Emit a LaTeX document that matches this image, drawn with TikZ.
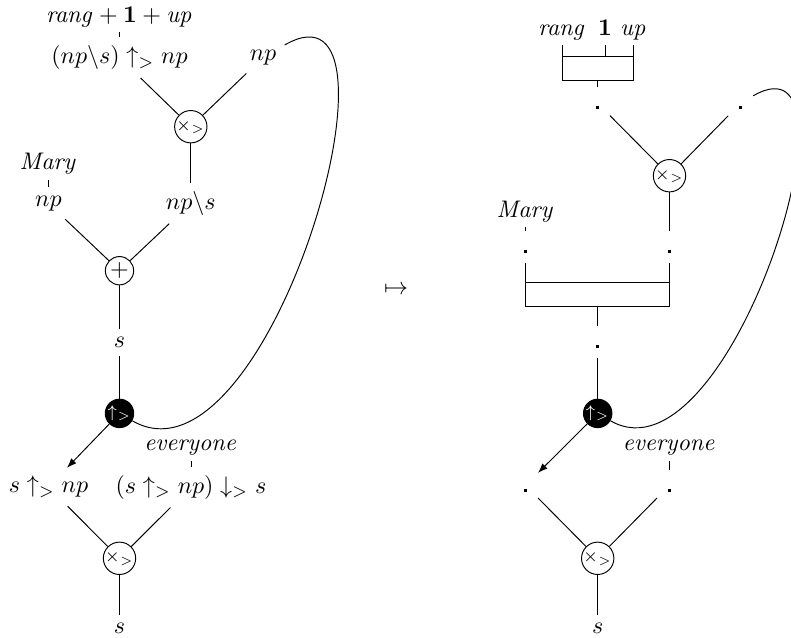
\documentclass[tikz,border=0pt]{standalone}
\usetikzlibrary{arrows.meta}
\begin{document}
\begin{tikzpicture}[x=0.4167pt,y=0.4167pt,
  lbl/.style={inner sep=3.333pt},
  toplbl/.style={inner sep=2pt},
  opc/.style={circle,draw,minimum size=11.8pt,inner sep=0pt,font=\scriptsize},
  blk/.style={opc,fill=black,text=white},
  dotn/.style={inner xsep=4.4pt,inner ysep=3pt,text height=5.95pt,text depth=0.8pt,anchor=base},
  arr/.style={-{Latex[length=4pt,width=3pt]}}]
\useasboundingbox (0,0) rectangle (791,-637);
\newcommand{\dotmark}{\rule{1.25pt}{1.25pt}}
% ---------- left diagram ----------
\node[toplbl] (Lrang) at (119.5,-17) {$\mathit{rang}+\mathbf{1}+\mathit{up}$};
\node[lbl] (Lt1) at (119.5,-57.5) {$(np\backslash s)\uparrow_{>} np$};
\node[lbl] (Lt2) at (263,-57.5) {$np$};
\node[opc] (Lc1) at (190.8,-126.7) {$\times_{>}$};
\node[toplbl] (Lmary) at (48.4,-163.7) {$\mathit{Mary}$};
\node[lbl] (Lnp) at (48.4,-203.3) {$np$};
\node[lbl] (Lnps) at (190.8,-203.3) {$np\backslash s$};
\node[opc,font=\normalsize] (Lplus) at (119.5,-270.7) {$+$};
\node[lbl] (Ls) at (119.5,-342.7) {$s$};
\node[blk] (Lblack) at (119.5,-413.4) {$\uparrow_{>}$};
\node[toplbl] (Leveryone) at (191,-448) {$\mathit{everyone}$};
\node[lbl] (Lb1) at (48.5,-487) {$s\uparrow_{>} np$};
\node[lbl] (Lb2) at (191,-487) {$(s\uparrow_{>} np)\downarrow_{>} s$};
\node[opc] (Lc2) at (119.5,-558.3) {$\times_{>}$};
\node[lbl] (Ls2) at (119.5,-628.5) {$s$};
\draw (Lrang) -- (Lt1);
\draw (Lt1) -- (Lc1);
\draw (Lt2) -- (Lc1);
\draw (Lc1) -- (Lnps);
\draw (Lmary) -- (Lnp);
\draw (Lnp) -- (Lplus);
\draw (Lnps) -- (Lplus);
\draw (Lplus) -- (Ls);
\draw (Ls) -- (Lblack);
\draw (Lt2) to[out=30,in=-30] (Lblack);
\draw[arr] (Lblack) -- (Lb1);
\draw (Leveryone) -- (Lb2);
\draw (Lb1) -- (Lc2);
\draw (Lb2) -- (Lc2);
\draw (Lc2) -- (Ls2);
% ---------- maps to ----------
\node (maps) at (396,-290) {$\mapsto$};
% ---------- right diagram ----------
\node[toplbl,text depth=2pt,anchor=base] (Rrang) at (562,-35) {$\mathit{rang}$};
\node[toplbl,text depth=2pt,anchor=base] (Rone) at (605,-35) {$\mathbf{1}$};
\node[toplbl,text depth=2pt,anchor=base] (Rup) at (633.5,-35) {$\mathit{up}$};
\coordinate (RBtop) at (597.7,-56);
\coordinate (RBbot) at (597.7,-80);
\node[dotn] (Rd1) at (597.5,-109.2) {\dotmark};
\node[dotn] (Rd2) at (740.7,-109.2) {\dotmark};
\node[opc] (Rc1) at (669.5,-175.7) {$\times_{>}$};
\node[toplbl] (Rmary) at (525.5,-211.2) {$\mathit{Mary}$};
\node[dotn] (Rd3) at (525.5,-253.2) {\dotmark};
\node[dotn] (Rd4) at (669.5,-253.2) {\dotmark};
\coordinate (RB2top) at (597.7,-282.5);
\coordinate (RB2bot) at (597.7,-306.7);
\node[dotn] (Rd5) at (597.7,-348.2) {\dotmark};
\node[blk] (Rblack) at (597.7,-413.4) {$\uparrow_{>}$};
\node[toplbl] (Reveryone) at (669.5,-448) {$\mathit{everyone}$};
\node[dotn] (Rd6) at (525.5,-491.5) {\dotmark};
\node[dotn] (Rd7) at (669.5,-491.5) {\dotmark};
\node[opc] (Rc2) at (597.7,-558.3) {$\times_{>}$};
\node[lbl] (Rs) at (597.7,-628.5) {$s$};
\draw (Rrang.south) -- (Rrang.south |- RBbot) -- (Rup.south |- RBbot) -- (Rup.south);
\draw (Rrang.south |- RBtop) -- (Rup.south |- RBtop);
\draw (Rone.south) -- (Rone.south |- RBtop);
\draw (RBbot -| Rd1) -- (Rd1);
\draw (Rd1) -- (Rc1);
\draw (Rd2) -- (Rc1);
\draw (Rc1) -- (Rd4);
\draw (Rmary) -- (Rd3);
\draw (Rd3) -- (Rd3 |- RB2bot) -- (Rd4 |- RB2bot) -- (Rd4);
\draw (Rd3 |- RB2top) -- (Rd4 |- RB2top);
\draw (RB2bot) -- (Rd5);
\draw (Rd5) -- (Rblack);
\draw (Rd2) to[out=30,in=-30] (Rblack);
\draw[arr] (Rblack) -- (Rd6);
\draw (Reveryone) -- (Rd7);
\draw (Rd6) -- (Rc2);
\draw (Rd7) -- (Rc2);
\draw (Rc2) -- (Rs);
\end{tikzpicture}
\end{document}
